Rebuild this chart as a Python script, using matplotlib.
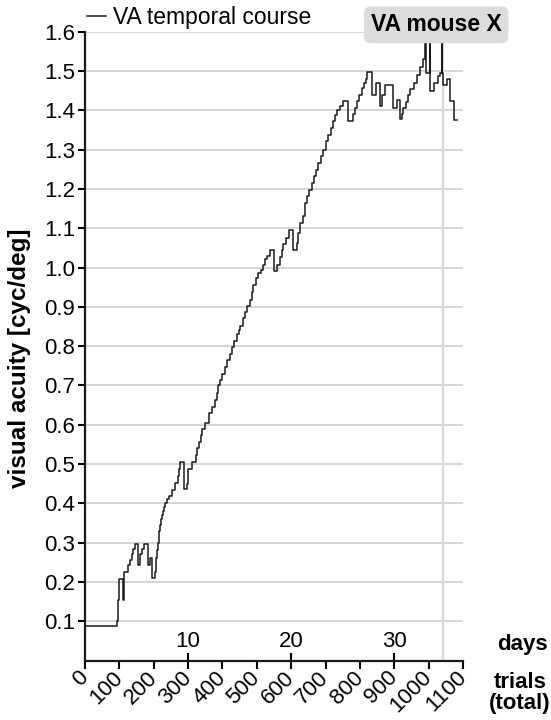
import matplotlib
matplotlib.use("Agg")
import matplotlib.pyplot as plt

# VA staircase: trial where each step starts and the VA value held from there on
trial_start = [0, 93, 97, 100, 110, 113, 125, 131, 136, 141, 146, 153, 160, 165, 172,
               183, 189, 194, 204, 206, 208, 210, 212, 214, 216, 218, 220, 223, 226, 229,
               233, 238, 245, 252, 262, 270, 274, 277, 289, 296, 299, 311, 324, 327, 333,
               337, 341, 350, 360, 370, 377, 383, 388, 393, 400, 407, 414, 421, 428, 435,
               442, 447, 451, 459, 466, 472, 480, 485, 490, 498, 504, 511, 517, 524, 531,
               538, 550, 560, 566, 572, 577, 585, 595, 606, 616, 621, 626, 635, 640, 647,
               653, 660, 666, 672, 679, 686, 694, 701, 708, 715, 721, 728, 734, 742, 750,
               766, 779, 786, 792, 798, 805, 812, 818, 822, 836, 847, 857, 863, 873, 895,
               907, 917, 922, 926, 934, 940, 946, 956, 965, 975, 983, 990, 991, 1004, 1005,
               1016, 1028, 1033, 1038, 1039, 1043, 1054, 1062, 1074, 1082]
va_value = [0.087, 0.10, 0.155, 0.207, 0.155, 0.225, 0.242, 0.256, 0.27, 0.283, 0.296, 0.242, 0.27, 0.283, 0.296,
            0.242, 0.26, 0.21, 0.225, 0.24, 0.26, 0.28, 0.30, 0.315, 0.33, 0.345, 0.36, 0.37, 0.38, 0.39,
            0.40, 0.41, 0.419, 0.434, 0.453, 0.47, 0.488, 0.506, 0.437, 0.45, 0.488, 0.506, 0.522, 0.54, 0.557,
            0.574, 0.59, 0.605, 0.63, 0.646, 0.663, 0.68, 0.70, 0.714, 0.73, 0.747, 0.764, 0.78, 0.797, 0.814,
            0.83, 0.84, 0.852, 0.871, 0.888, 0.903, 0.918, 0.939, 0.956, 0.973, 0.985, 0.995, 1.007, 1.022, 1.03,
            1.044, 0.99, 1.007, 1.028, 1.045, 1.06, 1.075, 1.096, 1.045, 1.062, 1.088, 1.113, 1.13, 1.164, 1.181,
            1.198, 1.215, 1.232, 1.249, 1.266, 1.283, 1.30, 1.321, 1.338, 1.355, 1.372, 1.389, 1.40, 1.41, 1.425,
            1.373, 1.39, 1.406, 1.423, 1.44, 1.457, 1.47, 1.48, 1.497, 1.44, 1.47, 1.41, 1.44, 1.464, 1.407,
            1.427, 1.377, 1.39, 1.405, 1.42, 1.44, 1.455, 1.47, 1.49, 1.51, 1.53, 1.75, 1.495, 1.75, 1.449,
            1.47, 1.488, 1.495, 1.75, 1.495, 1.464, 1.48, 1.425, 1.376, 1.376]

trial_ticks = [0, 100, 200, 300, 400, 500, 600, 700, 800, 900, 1000, 1100]
va_ticks = [0.1, 0.2, 0.3, 0.4, 0.5, 0.6, 0.7, 0.8, 0.9, 1.0, 1.1, 1.2, 1.3, 1.4, 1.5, 1.6]
day_ticks = [10, 20, 30]
trials_per_day = 30
current_trial = 1042

plt.rcParams["font.family"] = ["Liberation Sans", "DejaVu Sans"]
plt.rcParams["font.size"] = 16

fig = plt.figure(figsize=(5.51, 7.2), dpi=100)
ax = fig.add_axes([0.1543, 0.0826, 0.686, 0.8733])

ax.plot(trial_start, va_value, drawstyle="steps-post", color="#1a1a1a", lw=1.1,
        label="VA temporal course", zorder=3)
ax.axvline(current_trial, color="#d9d9d9", lw=1.6, zorder=1)

ax.set_xlim(0, 1100)
ax.set_ylim(0, 1.6)
ax.set_yticks(va_ticks)
ax.set_yticklabels([f"{v:.1f}" for v in va_ticks])
ax.grid(axis="y", color="#d0d0d0", lw=1.2)
ax.set_axisbelow(True)

for side in ["top", "right"]:
    ax.spines[side].set_visible(False)
for side in ["left", "bottom"]:
    ax.spines[side].set_linewidth(1.6)
    ax.spines[side].set_color("#1a1a1a")

ax.tick_params(axis="y", direction="out", length=5, width=1.5, pad=2)
ax.set_xticks(trial_ticks)
ax.set_xticklabels([str(t) for t in trial_ticks], rotation=45, ha="right",
                   va="center", rotation_mode="anchor")
ax.tick_params(axis="x", direction="out", length=6, width=1.5, pad=4)

# days axis on the same baseline, ticks pointing up, labels inside
day_ax = ax.secondary_xaxis("bottom", functions=(lambda t: t / trials_per_day,
                                                 lambda d: d * trials_per_day))
day_ax.set_xticks(day_ticks)
day_ax.tick_params(direction="in", length=6, width=1.5, pad=-21)
day_ax.spines["bottom"].set_visible(False)

ax.set_ylabel("visual acuity [cyc/deg]", fontweight="bold", fontsize=17.5)
ax.yaxis.set_label_coords(-0.143, 0.48)

ax.text(1.156, 0.025, "days", transform=ax.transAxes, ha="center", va="center",
        fontweight="bold")
ax.text(1.15, -0.052, "trials\n(total)", transform=ax.transAxes, ha="center",
        va="center", fontweight="bold", linespacing=1.0)

ax.legend(loc="lower left", bbox_to_anchor=(0.0, 1.0), frameon=False, fontsize=16.5,
          handlelength=0.8, handletextpad=0.3, borderaxespad=0, borderpad=0.1)

ax.text(0.929, 1.011, "VA mouse X", transform=ax.transAxes, ha="center", va="center",
        fontweight="bold", fontsize=16.5, zorder=5,
        bbox=dict(boxstyle="round,pad=0.3", facecolor="#dcdcdc", edgecolor="none"))

fig.savefig("out.png", dpi=100)
